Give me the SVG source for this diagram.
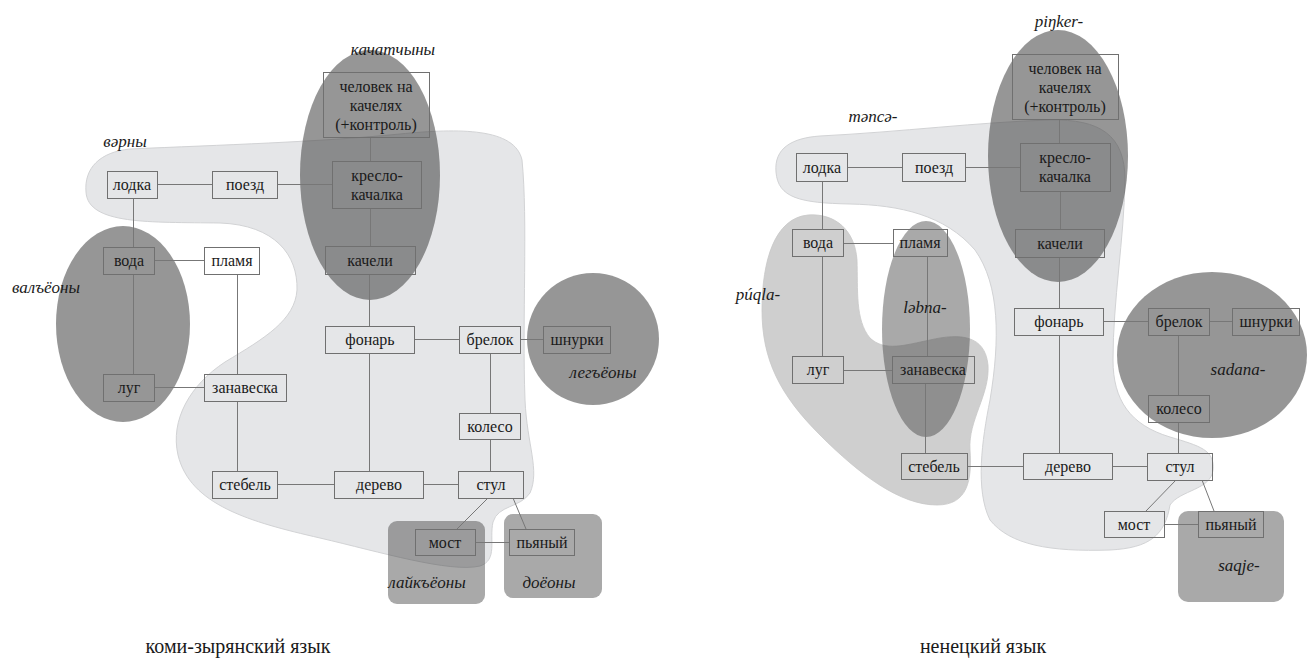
<svg xmlns="http://www.w3.org/2000/svg" width="1309" height="662" viewBox="0 0 1309 662">
<style>
  .blob{fill:#e5e6e8;stroke:#d2d3d5;stroke-width:1}
  .mid{fill:#cfcfcf;stroke:#c8c8c8;stroke-width:0.8}
  .dark{fill:#404040;fill-opacity:0.55}
  .semi{fill:#404040;fill-opacity:0.45}
  .box{fill:none;stroke:#707070;stroke-width:1}
  .edge{stroke:#777;stroke-width:1;fill:none}
  .t{font-family:"Liberation Serif","Times New Roman",serif;font-size:16px;fill:#1a1a1a;text-anchor:middle}
  .lbl{font-family:"Liberation Serif","Times New Roman",serif;font-size:17px;font-style:italic;fill:#1a1a1a;text-anchor:middle}
  .title{font-family:"Liberation Serif","Times New Roman",serif;font-size:20px;fill:#1a1a1a;text-anchor:middle}
</style>
<rect width="1309" height="662" fill="#ffffff"/>

<!-- ===== Left diagram: groups ===== -->
<g id="groups-komi">
  <path id="g-vorny" class="blob" d="M 86,192 C 84,168 100,152 130,149 C 220,145 320,142 400,134 C 460,128 515,128 522,160 C 528,220 522,320 525,400 C 527,445 540,470 530,493 C 520,508 498,505 493,522 C 489,540 498,560 480,566 C 450,573 380,552 320,538 C 250,522 190,505 178,455 C 170,420 190,385 225,362 C 265,338 295,320 297,290 C 298,255 275,225 220,223 C 150,222 88,225 86,192 Z"/>
  <ellipse id="g-kachatchyny" class="dark" cx="370" cy="175" rx="70" ry="125"/>
  <ellipse id="g-valjony" class="dark" cx="123" cy="324" rx="67" ry="98"/>
  <circle id="g-legjony" class="dark" cx="593" cy="339" r="66"/>
  <rect id="g-lajkjony" class="semi" x="388" y="521" width="97" height="83" rx="9"/>
  <rect id="g-dojony" class="semi" x="504" y="514" width="98" height="84" rx="9"/>
</g>

<!-- ===== Right diagram: groups ===== -->
<g id="groups-nenets">
  <path id="g-mensa" class="blob" d="M 776,172 C 774,148 792,138 820,136 C 900,132 980,122 1050,120 C 1100,119 1125,135 1125,180 C 1124,240 1113,300 1113,360 C 1113,400 1130,425 1170,437 C 1200,446 1215,450 1213,470 C 1211,490 1180,490 1170,505 C 1165,535 1150,548 1110,550 C 1050,552 1010,545 990,520 C 975,490 982,440 990,400 C 1000,340 1000,285 975,250 C 945,215 900,205 850,204 C 800,203 778,198 776,172 Z"/>
  <path id="g-puqla" class="mid" d="M 808,215 C 835,213 855,230 857,260 C 858,290 855,320 870,338 C 885,352 905,345 930,340 C 960,333 985,335 988,365 C 990,395 968,420 970,450 C 972,480 968,505 937,505 C 900,505 860,475 820,435 C 780,395 762,360 762,310 C 762,260 775,218 808,215 Z"/>
  <ellipse id="g-labna" class="dark" style="fill-opacity:0.45" cx="926" cy="329" rx="44" ry="108"/>
  <ellipse id="g-pinker" class="dark" cx="1058" cy="156" rx="70" ry="126"/>
  <ellipse id="g-sadana" class="dark" cx="1212" cy="355" rx="95" ry="83"/>
  <rect id="g-saqje" class="semi" x="1178" y="511" width="106" height="91" rx="10"/>
</g>

<!-- ===== Connectors ===== -->
<g id="connectors" class="edge">
  <!-- left -->
  <line x1="370.5" y1="137" x2="370.5" y2="161"/>
  <line x1="370.5" y1="208" x2="370.5" y2="246"/>
  <line x1="369.5" y1="274" x2="369.5" y2="326"/>
  <line x1="157" y1="184.5" x2="212" y2="184.5"/>
  <line x1="277" y1="184.5" x2="332" y2="184.5"/>
  <line x1="133.5" y1="198" x2="133.5" y2="247"/>
  <line x1="154" y1="260.5" x2="204" y2="260.5"/>
  <line x1="133.5" y1="274" x2="133.5" y2="374"/>
  <line x1="154" y1="387.5" x2="204" y2="387.5"/>
  <line x1="237.5" y1="274" x2="237.5" y2="374"/>
  <line x1="237.5" y1="401" x2="237.5" y2="471"/>
  <line x1="277" y1="484.5" x2="334" y2="484.5"/>
  <line x1="423" y1="484.5" x2="458" y2="484.5"/>
  <line x1="369.5" y1="353" x2="369.5" y2="471"/>
  <line x1="414" y1="339.5" x2="459" y2="339.5"/>
  <line x1="520" y1="339.5" x2="543" y2="339.5"/>
  <line x1="490.5" y1="353" x2="490.5" y2="413"/>
  <line x1="490.5" y1="439" x2="490.5" y2="471"/>
  <line x1="488" y1="498" x2="457" y2="529"/>
  <line x1="513" y1="498" x2="526" y2="529"/>
  <line x1="475" y1="542.5" x2="509" y2="542.5"/>
  <!-- right -->
  <line x1="1059.5" y1="119" x2="1059.5" y2="143"/>
  <line x1="1060.5" y1="191" x2="1060.5" y2="229"/>
  <line x1="1059.5" y1="257" x2="1059.5" y2="308"/>
  <line x1="847" y1="167.5" x2="902" y2="167.5"/>
  <line x1="965" y1="167.5" x2="1020" y2="167.5"/>
  <line x1="822.5" y1="181" x2="822.5" y2="229"/>
  <line x1="843" y1="243.5" x2="893" y2="243.5"/>
  <line x1="822.5" y1="256" x2="822.5" y2="356"/>
  <line x1="843" y1="370.5" x2="892" y2="370.5"/>
  <line x1="927.5" y1="256" x2="927.5" y2="356"/>
  <line x1="925.5" y1="383" x2="925.5" y2="453"/>
  <line x1="967" y1="466.5" x2="1023" y2="466.5"/>
  <line x1="1112" y1="466.5" x2="1147" y2="466.5"/>
  <line x1="1059.5" y1="335" x2="1059.5" y2="453"/>
  <line x1="1103" y1="321.5" x2="1148" y2="321.5"/>
  <line x1="1209" y1="321.5" x2="1232" y2="321.5"/>
  <line x1="1178.5" y1="335" x2="1178.5" y2="395"/>
  <line x1="1178.5" y1="422" x2="1178.5" y2="453"/>
  <line x1="1176" y1="480" x2="1146" y2="511"/>
  <line x1="1202" y1="480" x2="1214" y2="511"/>
  <line x1="1164" y1="524.5" x2="1198" y2="524.5"/>
</g>

<!-- ===== Left nodes ===== -->
<g id="n-komi-chelovek"><rect class="box" x="323.5" y="72.5" width="106" height="65"/><text class="t" x="376" y="92">человек на</text><text class="t" x="376" y="111">качелях</text><text class="t" x="376" y="130">(+контроль)</text></g>
<g id="n-komi-kreslo"><rect class="box" x="332.5" y="161.5" width="89" height="47"/><text class="t" x="377" y="181">кресло-</text><text class="t" x="377" y="200">качалка</text></g>
<g id="n-komi-kacheli"><rect class="box" x="325.5" y="246.5" width="90" height="28"/><text class="t" x="370" y="266">качели</text></g>
<g id="n-komi-lodka"><rect class="box" x="107.5" y="171.5" width="50" height="27"/><text class="t" x="132" y="190">лодка</text></g>
<g id="n-komi-poezd"><rect class="box" x="212.5" y="171.5" width="65" height="27"/><text class="t" x="245" y="190">поезд</text></g>
<g id="n-komi-voda"><rect class="box" x="103.5" y="247.5" width="51" height="27"/><text class="t" x="129" y="266">вода</text></g>
<g id="n-komi-plamya"><rect class="box" x="204.5" y="247.5" width="55" height="27"/><text class="t" x="232" y="266">пламя</text></g>
<g id="n-komi-lug"><rect class="box" x="103.5" y="374.5" width="51" height="27"/><text class="t" x="129" y="393">луг</text></g>
<g id="n-komi-zanaveska"><rect class="box" x="204.5" y="374.5" width="82" height="27"/><text class="t" x="245" y="393">занавеска</text></g>
<g id="n-komi-fonar"><rect class="box" x="325.5" y="326.5" width="89" height="27"/><text class="t" x="370" y="345">фонарь</text></g>
<g id="n-komi-brelok"><rect class="box" x="459.5" y="326.5" width="61" height="27"/><text class="t" x="490" y="345">брелок</text></g>
<g id="n-komi-shnurki"><rect class="box" x="543.5" y="326.5" width="67" height="27"/><text class="t" x="577" y="345">шнурки</text></g>
<g id="n-komi-koleso"><rect class="box" x="459.5" y="413.5" width="61" height="26"/><text class="t" x="490" y="432">колесо</text></g>
<g id="n-komi-stebel"><rect class="box" x="212.5" y="471.5" width="65" height="27"/><text class="t" x="245" y="490">стебель</text></g>
<g id="n-komi-derevo"><rect class="box" x="334.5" y="471.5" width="89" height="27"/><text class="t" x="379" y="490">дерево</text></g>
<g id="n-komi-stul"><rect class="box" x="458.5" y="471.5" width="65" height="27"/><text class="t" x="491" y="490">стул</text></g>
<g id="n-komi-most"><rect class="box" x="415.5" y="529.5" width="60" height="26"/><text class="t" x="445" y="548">мост</text></g>
<g id="n-komi-pyany"><rect class="box" x="509.5" y="529.5" width="65" height="26"/><text class="t" x="542" y="548">пьяный</text></g>

<!-- ===== Right nodes ===== -->
<g id="n-nen-chelovek"><rect class="box" x="1012.5" y="54.5" width="106" height="65"/><text class="t" x="1065" y="74">человек на</text><text class="t" x="1065" y="93">качелях</text><text class="t" x="1065" y="112">(+контроль)</text></g>
<g id="n-nen-kreslo"><rect class="box" x="1020.5" y="143.5" width="90" height="48"/><text class="t" x="1065" y="163">кресло-</text><text class="t" x="1065" y="182">качалка</text></g>
<g id="n-nen-kacheli"><rect class="box" x="1015.5" y="229.5" width="89" height="28"/><text class="t" x="1060" y="249">качели</text></g>
<g id="n-nen-lodka"><rect class="box" x="796.5" y="153.5" width="51" height="28"/><text class="t" x="822" y="173">лодка</text></g>
<g id="n-nen-poezd"><rect class="box" x="902.5" y="153.5" width="63" height="28"/><text class="t" x="934" y="173">поезд</text></g>
<g id="n-nen-voda"><rect class="box" x="792.5" y="229.5" width="51" height="27"/><text class="t" x="818" y="248">вода</text></g>
<g id="n-nen-plamya"><rect class="box" x="893.5" y="229.5" width="54" height="27"/><text class="t" x="920" y="248">пламя</text></g>
<g id="n-nen-lug"><rect class="box" x="792.5" y="356.5" width="51" height="27"/><text class="t" x="818" y="375">луг</text></g>
<g id="n-nen-zanaveska"><rect class="box" x="892.5" y="356.5" width="82" height="27"/><text class="t" x="933" y="375">занавеска</text></g>
<g id="n-nen-fonar"><rect class="box" x="1014.5" y="308.5" width="89" height="27"/><text class="t" x="1059" y="327">фонарь</text></g>
<g id="n-nen-brelok"><rect class="box" x="1148.5" y="308.5" width="61" height="27"/><text class="t" x="1179" y="327">брелок</text></g>
<g id="n-nen-shnurki"><rect class="box" x="1232.5" y="308.5" width="67" height="27"/><text class="t" x="1266" y="327">шнурки</text></g>
<g id="n-nen-koleso"><rect class="box" x="1148.5" y="395.5" width="61" height="27"/><text class="t" x="1179" y="414">колесо</text></g>
<g id="n-nen-stebel"><rect class="box" x="901.5" y="453.5" width="66" height="26"/><text class="t" x="934" y="472">стебель</text></g>
<g id="n-nen-derevo"><rect class="box" x="1023.5" y="453.5" width="89" height="26"/><text class="t" x="1068" y="472">дерево</text></g>
<g id="n-nen-stul"><rect class="box" x="1147.5" y="453.5" width="65" height="27"/><text class="t" x="1180" y="472">стул</text></g>
<g id="n-nen-most"><rect class="box" x="1104.5" y="511.5" width="60" height="26"/><text class="t" x="1134" y="530">мост</text></g>
<g id="n-nen-pyany"><rect class="box" x="1198.5" y="511.5" width="65" height="26"/><text class="t" x="1231" y="530">пьяный</text></g>

<!-- ===== Group labels ===== -->
<g id="labels">
  <text class="lbl" x="393" y="55">качатчыны</text>
  <text class="lbl" x="125" y="147">вәрны</text>
  <text class="lbl" x="46" y="293">валъёоны</text>
  <text class="lbl" x="603" y="378">легъёоны</text>
  <text class="lbl" x="427" y="588">лайкъёоны</text>
  <text class="lbl" x="549" y="588">доёоны</text>
  <text class="lbl" x="1059" y="27">piŋker-</text>
  <text class="lbl" x="873" y="122">mənсə-</text>
  <text class="lbl" x="758" y="300">púqla-</text>
  <text class="lbl" x="925" y="313">ləbna-</text>
  <text class="lbl" x="1238" y="375">sadana-</text>
  <text class="lbl" x="1239" y="571">saqje-</text>
</g>

<g id="titles">
  <text class="title" x="238" y="653">коми-зырянский язык</text>
  <text class="title" x="983" y="653">ненецкий язык</text>
</g>
</svg>
